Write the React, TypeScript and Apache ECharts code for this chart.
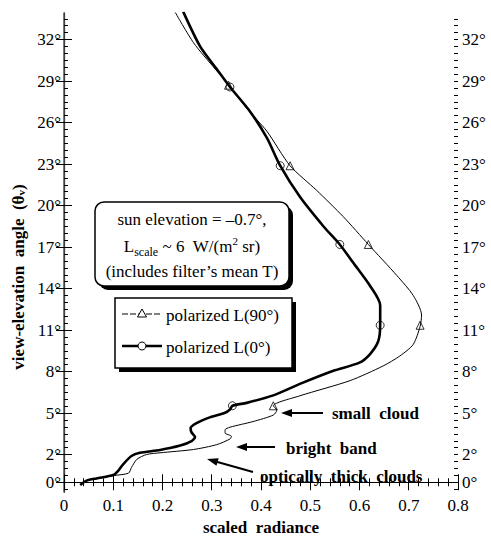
import React, { useEffect, useRef } from "react";
import * as echarts from "echarts";

const FONT = "'Liberation Serif', 'Times New Roman', 'DejaVu Serif', serif";

// y-axis labelled ticks (degrees)
const yTickValues = [0, 2, 5, 8, 11, 14, 17, 20, 23, 26, 29, 32];
const yMinorValues: number[] = [];
for (let v = -0.5; v <= 33.5; v += 0.5) yMinorValues.push(v);

// polarized L(0°) — thick curve
const l0X = [0.033, 0.046, 0.066, 0.1, 0.11, 0.12, 0.137, 0.154, 0.195, 0.236, 0.259, 0.266, 0.259, 0.257, 0.269, 0.296, 0.327, 0.337, 0.342, 0.371, 0.425, 0.479, 0.547, 0.6, 0.621, 0.638, 0.642, 0.642, 0.621, 0.587, 0.56, 0.527, 0.479, 0.439, 0.412, 0.378, 0.337, 0.31, 0.276, 0.242];
const l0Y = [-0.19, 0.12, 0.28, 0.52, 0.83, 1.3, 1.9, 2.13, 2.33, 2.65, 2.97, 3.27, 3.61, 3.91, 4.27, 4.69, 5.03, 5.26, 5.53, 5.74, 6.28, 7.11, 8.06, 8.65, 9.25, 10.19, 11.38, 12.8, 14.22, 15.88, 17.19, 18.49, 20.63, 22.88, 24.89, 26.79, 28.57, 29.87, 31.53, 34.02];

// polarized L(90°) — thin curve
const l90X = [0.033, 0.046, 0.066, 0.1, 0.131, 0.137, 0.148, 0.168, 0.195, 0.263, 0.31, 0.337, 0.34, 0.327, 0.327, 0.337, 0.384, 0.425, 0.432, 0.425, 0.479, 0.581, 0.648, 0.682, 0.709, 0.723, 0.726, 0.709, 0.676, 0.618, 0.567, 0.513, 0.459, 0.412, 0.371, 0.334, 0.307, 0.263, 0.225];
const l90Y = [-0.19, 0.12, 0.28, 0.48, 0.66, 1.07, 1.66, 2.01, 2.13, 2.37, 2.72, 3.13, 3.32, 3.56, 3.79, 3.98, 4.39, 4.86, 5.21, 5.53, 6.25, 7.35, 8.41, 9.13, 9.96, 11.26, 12.09, 13.51, 14.94, 17.19, 19.2, 21.1, 22.88, 25.37, 27.03, 28.75, 29.87, 31.77, 34.02];

// marker positions
const l0MarkX = [0.342, 0.642, 0.56, 0.439, 0.337];
const l0MarkY = [5.53, 11.35, 17.19, 22.88, 28.57];
const l90MarkX = [0.425, 0.723, 0.618, 0.459, 0.334];
const l90MarkY = [5.53, 11.35, 17.19, 22.88, 28.7];

const seriesNames = ["polarized L(90°)", "polarized L(0°)"];
const annotations = ["small  cloud", "bright  band", "optically  thick  clouds"];

const zip = (xs: number[], ys: number[]) => xs.map((x, i) => [x, ys[i]]);

export default function App() {
  const ref = useRef<HTMLDivElement>(null);
  useEffect(() => {
    if (!ref.current) return;
    const chart = echarts.init(ref.current, null, { renderer: "svg" });
    const yMin = -0.71;
    const yMax = 33.92;
    const labelStyle = { fontFamily: FONT, fontSize: 17, color: "#000" };
    const yBase = {
      type: "value" as const,
      min: yMin,
      max: yMax,
      splitLine: { show: false },
    };
    const arrowHead = (tip: number[], from: number[], len = 11, half = 4) => {
      const dx = tip[0] - from[0];
      const dy = tip[1] - from[1];
      const d = Math.hypot(dx, dy);
      const ux = dx / d, uy = dy / d;
      const bx = tip[0] - ux * len, by = tip[1] - uy * len;
      return [tip, [bx - uy * half, by + ux * half], [bx + uy * half, by - ux * half]];
    };
    const arrow = (from: number[], tip: number[]) => [
      { type: "line", shape: { x1: from[0], y1: from[1], x2: tip[0] + (from[0] - tip[0]) * 0.15, y2: tip[1] + (from[1] - tip[1]) * 0.15 }, style: { stroke: "#000", lineWidth: 2 } },
      { type: "polygon", shape: { points: arrowHead(tip, from) }, style: { fill: "#000" } },
    ];
    const txt = (x: number, y: number, text: string, bold = false, align = "left") => ({
      type: "text",
      x,
      y,
      style: { text, font: `${bold ? "bold " : ""}17px ${FONT}`, fill: "#000", align, verticalAlign: "middle" },
    });
    chart.setOption({
      animation: false,
      backgroundColor: "#fff",
      grid: { left: 64, right: 33, top: 13, bottom: 41 },
      xAxis: [
        {
          type: "value",
          min: 0,
          max: 0.8,
          interval: 0.1,
          position: "bottom",
          name: "scaled  radiance",
          nameLocation: "middle",
          nameGap: 23,
          nameTextStyle: { ...labelStyle, fontWeight: "bold" },
          axisLine: { lineStyle: { color: "#000", width: 1.2 } },
          axisTick: { inside: true, length: 8, lineStyle: { color: "#000" } },
          minorTick: { show: true, splitNumber: 5, length: 4, lineStyle: { color: "#000" } },
          axisLabel: { ...labelStyle, margin: 5, formatter: (v: number) => (v === 0 ? "0" : v.toFixed(1)) },
          splitLine: { show: false },
        },
        {
          type: "value",
          min: 0,
          max: 0.8,
          interval: 0.1,
          position: "top",
          axisLine: { lineStyle: { color: "#000", width: 1.2 } },
          axisTick: { inside: true, length: 8, lineStyle: { color: "#000" } },
          minorTick: { show: true, splitNumber: 5, length: 4, lineStyle: { color: "#000" } },
          axisLabel: { show: false },
          splitLine: { show: false },
        },
      ],
      yAxis: [
        {
          ...yBase,
          position: "left",
          axisLine: { show: true, lineStyle: { color: "#000", width: 1.2 } },
          axisTick: { show: true, inside: true, length: 8, customValues: yTickValues, lineStyle: { color: "#000" } },
          axisLabel: { ...labelStyle, margin: 3, customValues: yTickValues, formatter: (v: number) => `${v}°` },
        },
        {
          ...yBase,
          position: "right",
          axisLine: { show: true, lineStyle: { color: "#555", width: 1.5 } },
          axisTick: { show: true, inside: true, length: 8, customValues: yTickValues, lineStyle: { color: "#000" } },
          axisLabel: { ...labelStyle, margin: 4, customValues: yTickValues, formatter: (v: number) => `${v}°` },
        },
        {
          ...yBase,
          position: "left",
          axisLine: { show: false },
          axisTick: { show: true, inside: true, length: 4, customValues: yMinorValues, lineStyle: { color: "#000" } },
          axisLabel: { show: false },
        },
        {
          ...yBase,
          position: "right",
          axisLine: { show: false },
          axisTick: { show: true, inside: true, length: 4, customValues: yMinorValues, lineStyle: { color: "#000" } },
          axisLabel: { show: false },
        },
      ],
      series: [
        {
          name: seriesNames[0],
          type: "line",
          data: zip(l90X, l90Y),
          showSymbol: false,
          smooth: 0.25,
          lineStyle: { color: "#000", width: 1 },
          clip: true,
        },
        {
          name: seriesNames[1],
          type: "line",
          data: zip(l0X, l0Y),
          showSymbol: false,
          smooth: 0.25,
          lineStyle: { color: "#000", width: 2.6 },
          clip: true,
        },
        {
          type: "scatter",
          data: zip(l90MarkX, l90MarkY),
          symbol: "triangle",
          symbolSize: 8,
          itemStyle: { color: "#fff", borderColor: "#000", borderWidth: 1 },
        },
        {
          type: "scatter",
          data: zip(l0MarkX, l0MarkY),
          symbol: "circle",
          symbolSize: 8,
          itemStyle: { color: "rgba(255,255,255,0)", borderColor: "#000", borderWidth: 1 },
        },
      ],
      graphic: [
        // y axis title
        {
          type: "text",
          x: 18,
          y: 277,
          rotation: Math.PI / 2,
          style: {
            text: "view-elevation  angle  (θ{s|v})",
            rich: { s: { fontFamily: FONT, fontSize: 11, fontWeight: "bold", verticalAlign: "bottom" } },
            font: `bold 17px ${FONT}`,
            fill: "#000",
            align: "center",
            verticalAlign: "middle",
          },
        },
        // info box
        { type: "rect", shape: { x: 99, y: 206, width: 194, height: 84, r: 9 }, style: { fill: "#000" } },
        { type: "rect", shape: { x: 95, y: 202, width: 194, height: 84, r: 9 }, style: { fill: "#fff", stroke: "#000", lineWidth: 1.5 } },
        txt(192, 219, "sun elevation = –0.7°,", false, "center"),
        {
          type: "text",
          x: 192,
          y: 246,
          style: {
            text: "L{sub|scale} ~ 6  W/(m{sup|2} sr)",
            font: `17px ${FONT}`,
            rich: {
              sub: { fontFamily: FONT, fontSize: 12, padding: [12, 0, 0, 0] },
              sup: { fontFamily: FONT, fontSize: 11, padding: [0, 0, 10, 0] },
            },
            fill: "#000",
            align: "center",
            verticalAlign: "middle",
          },
        },
        txt(192, 271, "(includes filter’s mean T)", false, "center"),
        // legend box
        { type: "rect", shape: { x: 119, y: 302, width: 177, height: 70 }, style: { fill: "#000" } },
        { type: "rect", shape: { x: 115, y: 298, width: 177, height: 70 }, style: { fill: "#fff", stroke: "#000", lineWidth: 1.5 } },
        { type: "line", shape: { x1: 122, y1: 314, x2: 162, y2: 314 }, style: { stroke: "#000", lineWidth: 1, lineDash: [6, 2] } },
        { type: "polygon", shape: { points: [[142, 309], [137.5, 317], [146.5, 317]] }, style: { fill: "#fff", stroke: "#000", lineWidth: 1 } },
        txt(166, 315, seriesNames[0]),
        { type: "line", shape: { x1: 122, y1: 346, x2: 162, y2: 346 }, style: { stroke: "#000", lineWidth: 2.6 } },
        { type: "circle", shape: { cx: 142, cy: 346, r: 4 }, style: { fill: "#fff", stroke: "#000", lineWidth: 1 } },
        txt(166, 347, seriesNames[1]),
        // annotations
        ...arrow([323, 413], [281, 413]),
        txt(332, 413, annotations[0], true),
        ...arrow([275, 447], [236, 447]),
        txt(286, 448, annotations[1], true),
        ...arrow([253, 472], [207, 459]),
        txt(260, 476, annotations[2], true),
      ],
    });
    return () => chart.dispose();
  }, []);
  return <div ref={ref} style={{ width: 491, height: 541, position: "absolute", left: 0, top: 0 }} />;
}
